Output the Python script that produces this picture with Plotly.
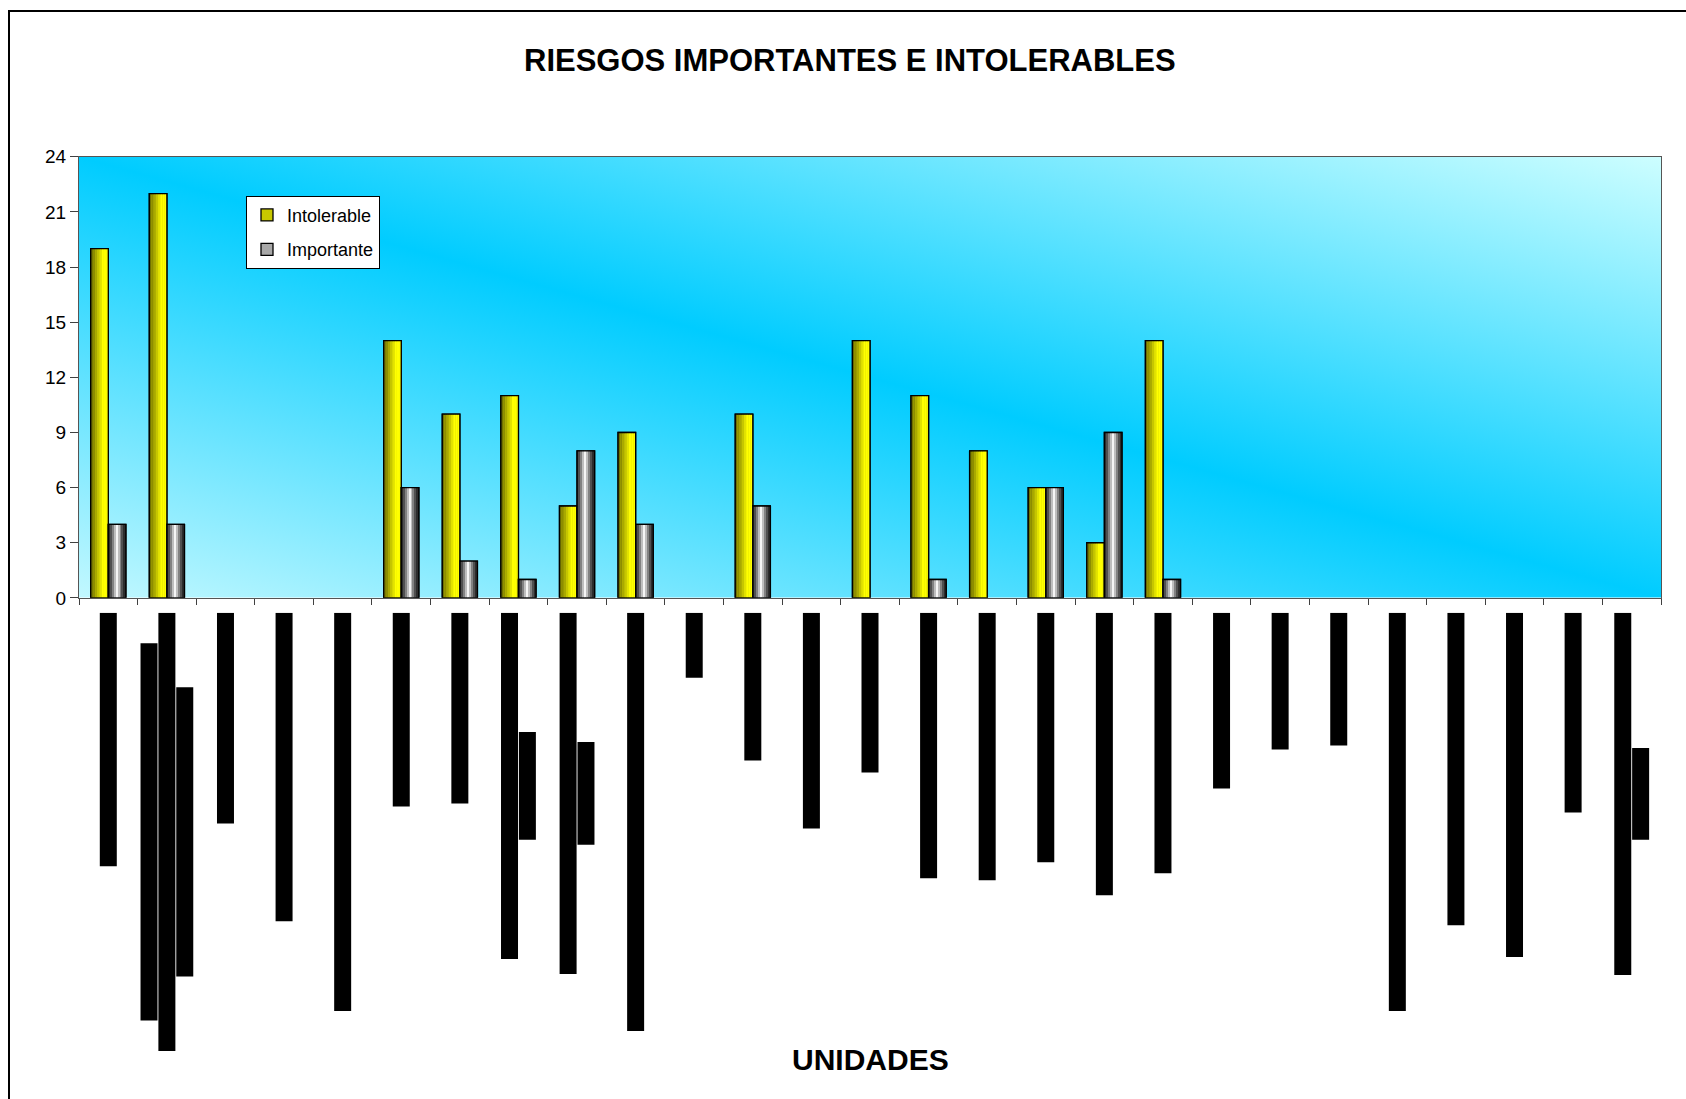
import base64
import plotly.graph_objects as go

# ---------------- data ----------------
categories = list(range(1, 28))
intolerable = [19, 22, 0, 0, 0, 14, 10, 11, 5, 9, 0, 10, 0, 14, 11, 8, 6, 3, 14, 0, 0, 0, 0, 0, 0, 0, 0]
importante = [4, 4, 0, 0, 0, 6, 2, 1, 8, 4, 0, 5, 0, 0, 1, 0, 6, 9, 1, 0, 0, 0, 0, 0, 0, 0, 0]
y_ticks = [0, 3, 6, 9, 12, 15, 18, 21, 24]

# category labels (rendered as solid black blocks in the original): length of each text line
label_line1 = [254, 378, 211, 309, 399, 194, 191, 347, 362, 419, 65, 148, 216, 160, 266, 268,
               250, 283, 261, 176, 137, 133, 399, 313, 345, 200, 363]
label_line2 = [None, 439, None, None, None, None, None, 108, 103, None, None, None, None, None,
               None, None, None, None, None, None, None, None, None, None, None, None, 92]
label_line3 = [None, 290, None, None, None, None, None, None, None, None, None, None, None, None,
               None, None, None, None, None, None, None, None, None, None, None, None, None]

title_text = "RIESGOS IMPORTANTES E INTOLERABLES"
x_title = "UNIDADES"

# ---------------- layout geometry ----------------
W, H = 1686, 1099
VS, VOFF = 0.983, 8.0  # observed vertical mapping of the page: screen = VS * (layout + VOFF)
px = lambda v: v / W
py = lambda t: 1 - (t / VS - VOFF) / H
BAR_W = 0.3
SANS = "Liberation Sans, Arial, sans-serif"
BOLD = "Liberation Sans Narrow, Arial Narrow, Liberation Sans, Arial, sans-serif"

fig = go.Figure()


def lerp(c1, c2, t):
    return tuple(int(round(a + (b - a) * t)) for a, b in zip(c1, c2))


def nz(vals):
    return [v if v else None for v in vals]


yi = nz(intolerable)
ym = nz(importante)

# ---- Intolerable (yellow, horizontal gradient) ----
fig.add_trace(go.Bar(x=categories, y=yi, offset=-BAR_W, width=BAR_W,
                     name="Intolerable", legendgroup="a",
                     marker=dict(color="#c8c800", line=dict(color="black", width=1.3))))
y_cols = [lerp((112, 112, 0), (255, 255, 0), min(1, i / 5)) for i in range(8)]
n = len(y_cols)
for i, c in enumerate(y_cols):
    fig.add_trace(go.Bar(x=categories, y=yi, offset=-BAR_W + i * BAR_W / n,
                         width=BAR_W / n, showlegend=False, hoverinfo="skip",
                         marker=dict(color="rgb(%d,%d,%d)" % c, line=dict(width=0))))
fig.add_trace(go.Bar(x=categories, y=yi, offset=-BAR_W, width=BAR_W,
                     showlegend=False, hoverinfo="skip",
                     marker=dict(color="rgba(0,0,0,0)", line=dict(color="black", width=1.3))))

# ---- Importante (gray, dark edges, white centre) ----
fig.add_trace(go.Bar(x=categories, y=ym, offset=0, width=BAR_W,
                     name="Importante", legendgroup="b",
                     marker=dict(color="#a8a8a8", line=dict(color="black", width=1.3))))
g_levels = [45, 80, 130, 190, 245, 190, 130, 80, 45]
n = len(g_levels)
for i, g in enumerate(g_levels):
    fig.add_trace(go.Bar(x=categories, y=ym, offset=i * BAR_W / n,
                         width=BAR_W / n, showlegend=False, hoverinfo="skip",
                         marker=dict(color="rgb(%d,%d,%d)" % (g, g, g), line=dict(width=0))))
fig.add_trace(go.Bar(x=categories, y=ym, offset=0, width=BAR_W,
                     showlegend=False, hoverinfo="skip",
                     marker=dict(color="rgba(0,0,0,0)", line=dict(color="black", width=1.3))))

# ---- category label blocks below the axis ----
lines = [label_line1, label_line2, label_line3]
PITCH, LW = 0.305, 0.29
for k, arr in enumerate(lines):
    xs, ys, bases, offs = [], [], [], []
    for j, cat in enumerate(categories):
        if arr[j] is None:
            continue
        present = [ln[j] for ln in lines if ln[j] is not None]
        nl = len(present)
        mx = max(present)
        xs.append(cat)
        ys.append(arr[j])
        bases.append((mx - arr[j]) / 2)
        offs.append((k - (nl - 1) / 2) * PITCH - LW / 2)
    fig.add_trace(go.Bar(x=xs, y=ys, base=bases, offset=offs, width=LW,
                         xaxis="x2", yaxis="y2", showlegend=False, hoverinfo="skip",
                         marker=dict(color="black", line=dict(width=0))))

# ---- plot-area gradient background ----
svg = (
    "<svg xmlns='http://www.w3.org/2000/svg' width='1582' height='442' viewBox='0 0 1582 442' "
    "preserveAspectRatio='none'><defs><linearGradient id='g' x1='0' y1='1' x2='1' y2='0'>"
    "<stop offset='0' stop-color='#c2f8ff'/><stop offset='0.5' stop-color='#00ccff'/>"
    "<stop offset='1' stop-color='#cdfeff'/></linearGradient></defs>"
    "<rect width='1582' height='442' fill='url(#g)'/></svg>"
)
src = "data:image/svg+xml;base64," + base64.b64encode(svg.encode()).decode()

fig.update_layout(
    width=W, height=H,
    margin=dict(l=0, r=0, t=0, b=0),
    paper_bgcolor="white",
    plot_bgcolor="rgba(0,0,0,0)",
    barmode="overlay",
    showlegend=True,
    legend=dict(x=px(246), y=py(194), xanchor="left", yanchor="top",
                bgcolor="white", bordercolor="black", borderwidth=1,
                font=dict(family=SANS, size=18, color="black"),
                tracegroupgap=8, itemwidth=30, traceorder="grouped"),
    xaxis=dict(domain=[px(79), px(1661)], range=[0.5, 27.5], anchor="y",
               tickvals=[c - 0.5 for c in categories] + [27.5], showticklabels=False,
               ticks="outside", ticklen=6, tickcolor="#404040",
               showline=True, linecolor="#555555", linewidth=1.3, mirror=True,
               showgrid=False, zeroline=False),
    yaxis=dict(domain=[py(597), py(155)], range=[0, 24], anchor="x",
               tickvals=y_ticks, ticks="outside", ticklen=8, tickcolor="#404040",
               tickfont=dict(family=SANS, size=19, color="black"),
               showline=True, linecolor="#555555", linewidth=1.3, mirror=True,
               showgrid=False, zeroline=False),
    xaxis2=dict(domain=[px(79), px(1661)], range=[0.5, 27.5], anchor="y2", visible=False),
    yaxis2=dict(domain=[py(1072), py(612)], range=[460, 0], anchor="x2", visible=False),
    images=[dict(source=src, xref="x", yref="y", x=0.5, y=24, sizex=27, sizey=24,
                 sizing="stretch", layer="below", xanchor="left", yanchor="top")],
    shapes=[dict(type="rect", xref="paper", yref="paper", x0=px(9), x1=1.05,
                 y0=-0.05, y1=min(py(4), 1 - 1 / H), line=dict(color="black", width=2))],
    annotations=[
        dict(text="<b>%s</b>" % title_text, xref="paper", yref="paper", x=px(850), y=py(58),
             xanchor="center", yanchor="middle",
             showarrow=False, font=dict(family=BOLD, size=31, color="black")),
        dict(text="<b>%s</b>" % x_title, xref="paper", yref="paper", x=px(871), y=py(1060),
             xanchor="center", yanchor="middle",
             showarrow=False, font=dict(family=BOLD, size=30, color="black")),
    ],
)

fig.write_html("out.html")
